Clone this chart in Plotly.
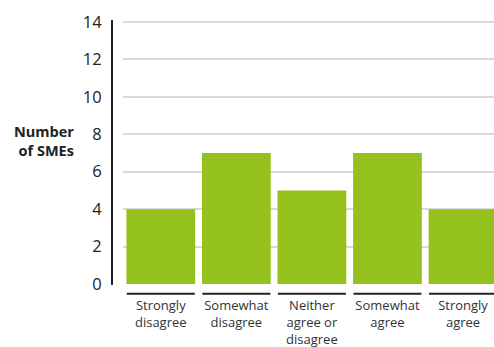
import plotly.graph_objects as go

# Survey responses: number of SMEs per answer
categories = ["Strongly<br>disagree", "Somewhat<br>disagree", "Neither<br>agree or<br>disagree",
              "Somewhat<br>agree", "Strongly<br>agree"]
counts = [4, 7, 5, 7, 4]
y_ticks = [0, 2, 4, 6, 8, 10, 12, 14]

BAR = "#95c11f"
INK = "#222222"
FONT = "Open Sans, Noto Sans, sans-serif"

W, H = 494, 347
left_px, plot_left_px = 112, 123
top_px, bottom_px = 20, 285

fig = go.Figure(go.Bar(
    x=list(range(len(categories))), y=counts,
    marker=dict(color=BAR, line=dict(width=0)),
    width=0.91,
))

# short dark rules under each category
for i in range(len(categories)):
    fig.add_shape(type="line", xref="x", yref="paper",
                  x0=i - 0.45, x1=i + 0.45, y0=-0.033, y1=-0.033,
                  line=dict(color=INK, width=2))

fig.add_annotation(text="<b>Number<br>of SMEs</b>", xref="paper", yref="paper",
                   x=(76 - left_px) / (W - left_px), y=(bottom_px - 141) / (bottom_px - top_px),
                   xanchor="right", yanchor="middle", align="right", showarrow=False,
                   font=dict(family=FONT, size=14.5, color=INK))

fig.update_layout(
    width=W, height=H,
    margin=dict(l=left_px, r=0, t=top_px, b=H - bottom_px, pad=0, autoexpand=False),
    paper_bgcolor="white", plot_bgcolor="white",
    showlegend=False,
    font=dict(family=FONT, color=INK),
    xaxis=dict(
        domain=[(plot_left_px - left_px) / (W - left_px), 1],
        range=[-0.5, 4.41], automargin=False,
        tickmode="array", tickvals=list(range(len(categories))), ticktext=categories,
        ticks="", showgrid=False, zeroline=False, showline=False,
        tickfont=dict(family=FONT, size=13, color="#333333"),
        ticklabelstandoff=11,
    ),
    yaxis=dict(
        anchor="free", position=0, automargin=False,
        range=[-0.05, 14.1],
        tickmode="array", tickvals=y_ticks,
        showgrid=True, gridcolor="#d9d9d9", gridwidth=1.5,
        zeroline=False,
        showline=True, linecolor=INK, linewidth=2,
        ticks="", tickfont=dict(family=FONT, size=16.5, color=INK),
        ticklabelstandoff=6,
    ),
)

fig.write_html("out.html")
